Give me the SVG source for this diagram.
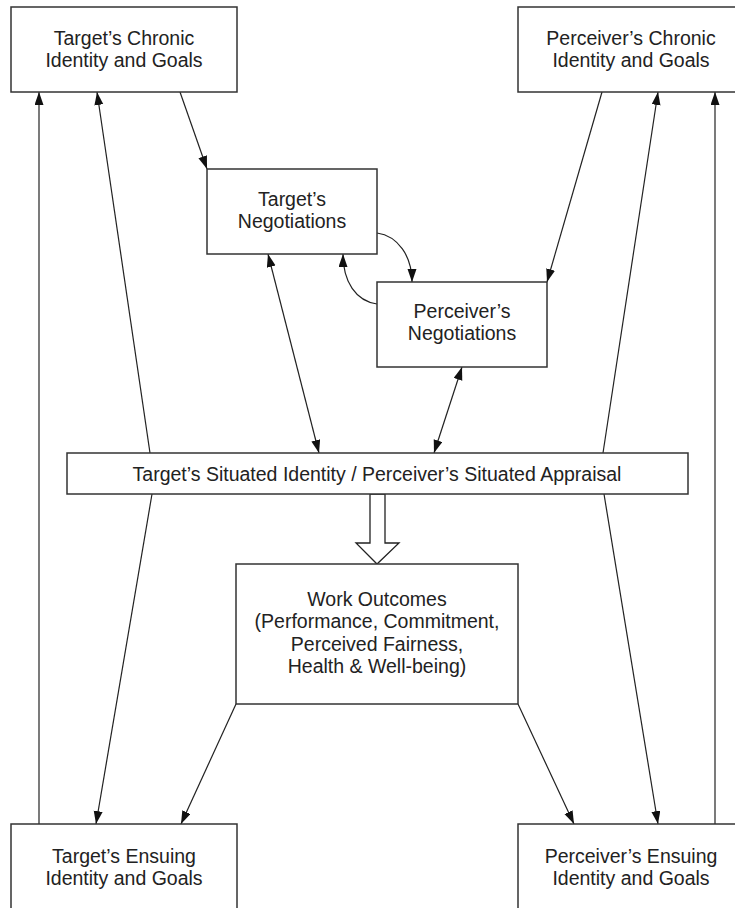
<svg xmlns="http://www.w3.org/2000/svg" width="735" height="908" viewBox="0 0 735 908">
<style>
.box{fill:#fff;stroke:#333;stroke-width:1.5}
.t{font-family:"Liberation Sans",Arial,sans-serif;font-size:19.5px;fill:#222;text-anchor:middle}
.ln{fill:none;stroke:#222;stroke-width:1.2}
.a{marker-end:url(#ah)}
.aa{marker-end:url(#ah);marker-start:url(#ah)}
</style>
<defs>
<marker id="ah" markerUnits="userSpaceOnUse" markerWidth="14" markerHeight="10" refX="13" refY="4.5" orient="auto-start-reverse" viewBox="0 0 14 10">
<path d="M0,0 L13,4.5 L0,9 z" fill="#111"/>
</marker>
</defs>
<rect width="735" height="908" fill="#fff"/>
<g id="connectors">
<line class="ln a" x1="39" y1="824" x2="39" y2="92"/>
<line class="ln a" x1="150" y1="453" x2="97" y2="92"/>
<line class="ln a" x1="152" y1="494" x2="96" y2="824"/>
<line class="ln a" x1="180" y1="92" x2="207" y2="169"/>
<line class="ln aa" x1="268" y1="254" x2="319" y2="453"/>
<path class="ln a" d="M377,233 C398,236 412,256 412,282"/>
<path class="ln a" d="M377,304 C356,301 343,282 343,254"/>
<line class="ln a" x1="602" y1="92" x2="547" y2="282"/>
<line class="ln aa" x1="462" y1="367" x2="434" y2="453"/>
<line class="ln a" x1="603" y1="453" x2="658" y2="92"/>
<line class="ln a" x1="604" y1="494" x2="658" y2="824"/>
<line class="ln a" x1="715" y1="824" x2="715" y2="92"/>
<line class="ln a" x1="236" y1="704" x2="181" y2="824"/>
<line class="ln a" x1="518" y1="704" x2="574" y2="824"/>
<polygon points="370,494 385,494 385,543 399,543 377,564 356,543 370,543" fill="#fff" stroke="#222" stroke-width="1.3"/>
</g>
<g id="target-chronic">
<rect class="box" x="11" y="7" width="226" height="85"/>
<text class="t" x="124" y="45">Target’s Chronic</text>
<text class="t" x="124" y="67">Identity and Goals</text>
</g>
<g id="perceiver-chronic">
<rect class="box" x="518" y="7" width="226" height="85"/>
<text class="t" x="631" y="45">Perceiver’s Chronic</text>
<text class="t" x="631" y="67">Identity and Goals</text>
</g>
<g id="target-negotiations">
<rect class="box" x="207" y="169" width="170" height="85"/>
<text class="t" x="292" y="206">Target’s</text>
<text class="t" x="292" y="228">Negotiations</text>
</g>
<g id="perceiver-negotiations">
<rect class="box" x="377" y="282" width="170" height="85"/>
<text class="t" x="462" y="318">Perceiver’s</text>
<text class="t" x="462" y="340">Negotiations</text>
</g>
<g id="situated">
<rect class="box" x="67" y="453" width="621" height="41"/>
<text class="t" x="377" y="481">Target’s Situated Identity / Perceiver’s Situated Appraisal</text>
</g>
<g id="work-outcomes">
<rect class="box" x="236" y="564" width="282" height="140"/>
<text class="t" x="377" y="606">Work Outcomes</text>
<text class="t" x="377" y="628">(Performance, Commitment,</text>
<text class="t" x="377" y="651">Perceived Fairness,</text>
<text class="t" x="377" y="673">Health &amp; Well-being)</text>
</g>
<g id="target-ensuing">
<rect class="box" x="11" y="824" width="226" height="90"/>
<text class="t" x="124" y="863">Target’s Ensuing</text>
<text class="t" x="124" y="885">Identity and Goals</text>
</g>
<g id="perceiver-ensuing">
<rect class="box" x="518" y="824" width="226" height="90"/>
<text class="t" x="631" y="863">Perceiver’s Ensuing</text>
<text class="t" x="631" y="885">Identity and Goals</text>
</g>
</svg>
